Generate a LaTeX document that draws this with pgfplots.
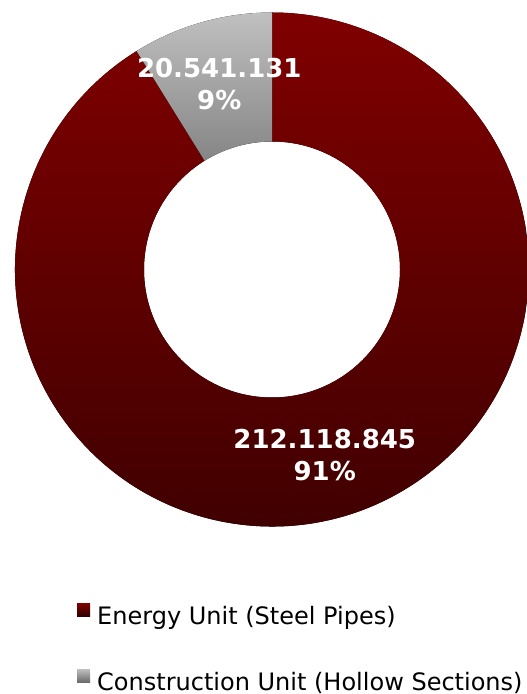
\documentclass[border=0pt]{standalone}
\usepackage{pgfplots}
\pgfplotsset{compat=1.18}
\usepackage{pgfplotstable}
\usepackage{fontspec}
\setmainfont{DejaVu Sans}
\definecolor{redtop}{HTML}{800000}
\definecolor{redbot}{HTML}{3C0000}
\definecolor{graytop}{HTML}{C0C0C0}
\definecolor{graybot}{HTML}{5A5A5A}

\pgfplotstableread{
name value
Energy 212118845
Construction 20541131
}\pietable

\begin{document}
\begin{tikzpicture}
\pgfplotstablegetelem{0}{value}\of\pietable \let\vA\pgfplotsretval
\pgfplotstablegetelem{1}{value}\of\pietable \let\vB\pgfplotsretval
\edef\total{\fpeval{\vA+\vB}}
\edef\angB{\fpeval{360*\vB/\total}}
\edef\startA{\fpeval{90+\angB}}
\edef\midA{\fpeval{(\startA+450)/2}}
\edef\midB{\fpeval{90+\angB/2}}
\edef\pA{\fpeval{round(100*\vA/\total)}}
\edef\pB{\fpeval{round(100*\vB/\total)}}
\begin{axis}[hide axis, scale only axis, width=527pt, height=694pt,
  xmin=0, xmax=527, ymin=0, ymax=694, clip=false,
  /pgf/number format/assume math mode=true,
  legend cell align=left,
  legend style={draw=none, fill=none, inner sep=0pt,
    at={(axis cs:77,91)}, anchor=north west,
    font=\fontsize{24}{29}\selectfont, row sep=41pt,
    /tikz/every odd column/.append style={column sep=5pt}}]
\addlegendimage{legend image code/.code={\fill[draw=none, top color=redtop, bottom color=redbot!80!black] (0pt,0pt) rectangle (13pt,13pt);}}
\addlegendentry{Energy Unit (Steel Pipes)}
\addlegendimage{legend image code/.code={\fill[draw=none, top color=graytop, bottom color=graybot!90!white] (0pt,0pt) rectangle (13pt,13pt);}}
\addlegendentry{Construction Unit (Hollow Sections)}
% Energy slice
\fill[top color=redtop, bottom color=redbot] (axis cs:272,424.5) ++(\startA:257pt)
  arc[start angle=\startA, end angle=450, radius=257pt] -- ++(270:129pt)
  arc[start angle=450, end angle=\startA, radius=128pt] -- cycle;
% Construction slice
\fill[top color=graytop, bottom color=graybot] (axis cs:272,424.5) ++(90:257pt)
  arc[start angle=90, end angle=\startA, radius=257pt] -- ++(\startA+180:129pt)
  arc[start angle=\startA, end angle=90, radius=128pt] -- cycle;
\path (axis cs:272,424.5) ++(\midA:192.5pt) node[align=center, text=white, font=\bfseries\fontsize{26}{32}\selectfont]
  {\pgfmathprintnumber[fixed, precision=0, 1000 sep={.}]{\vA}\\\pA\%};
\path (axis cs:272,424.5) ++(\midB:192.5pt) node[align=center, text=white, font=\bfseries\fontsize{26}{32}\selectfont]
  {\pgfmathprintnumber[fixed, precision=0, 1000 sep={.}]{\vB}\\\pB\%};
\end{axis}
\pgfresetboundingbox
\useasboundingbox (0,0) rectangle (527pt,694pt);
\end{tikzpicture}
\end{document}
